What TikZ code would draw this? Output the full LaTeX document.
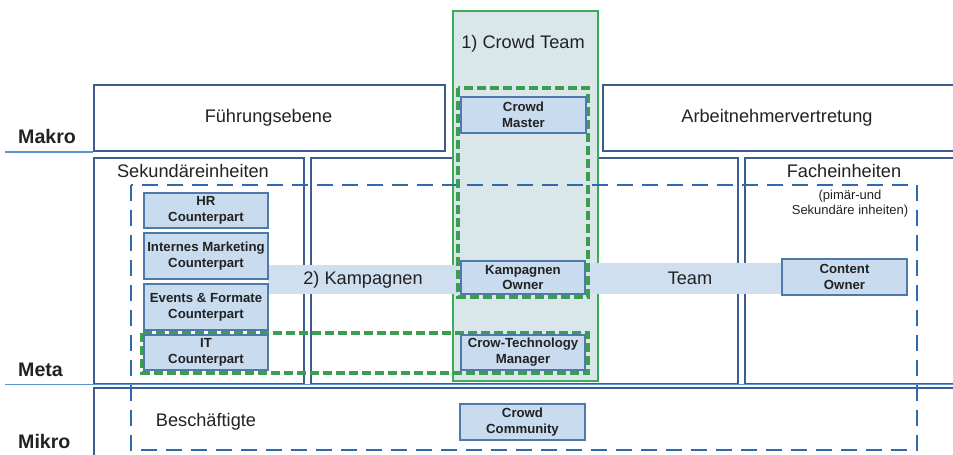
\documentclass[tikz,border=0pt]{standalone}
\usepackage{fontspec}
\setmainfont{Liberation Sans}
\begin{document}
\begin{tikzpicture}[x=1pt,y=-1pt,
  region/.style={draw=regionc, line width=1.8pt, fill=white, anchor=north west, inner sep=0pt},
  nbox/.style={draw=nboxc, line width=1.6pt, fill=nfill, align=center, inner sep=0pt,
    font=\fontsize{13.2}{15.8}\selectfont\bfseries, text=txt},
  band/.style={fill=bandc, draw=none, inner sep=0pt, font=\fontsize{18.2}{20}\selectfont, text=txt},
  lbl/.style={font=\fontsize{18.2}{20}\selectfont, text=txt, inner sep=0pt},
  lvl/.style={font=\fontsize{19.6}{22}\selectfont\bfseries, text=txt, inner sep=0pt, anchor=base west},
  gdash/.style={draw=greend, line width=3.4pt, dash pattern=on 9pt off 4pt},
  bdash/.style={draw=blued, line width=2.8pt, dash pattern=on 16pt off 9pt},
  lvline/.style={draw=linec, line width=1.4pt}
]
\definecolor{regionc}{HTML}{3E5C8E}
\definecolor{nboxc}{HTML}{4F79A8}
\definecolor{nfill}{HTML}{C8DBEF}
\definecolor{bandc}{HTML}{CFDFF0}
\definecolor{txt}{HTML}{222222}
\definecolor{greenc}{HTML}{3DAA5A}
\definecolor{greend}{HTML}{3A9E4E}
\definecolor{greenfill}{HTML}{D9E6EA}
\definecolor{blued}{HTML}{2F6AAE}
\definecolor{linec}{HTML}{5B95CF}

\useasboundingbox (0,0) rectangle (953,455);

% region boxes
\node[region, minimum width=351pt, minimum height=66pt] (fuehrung) at (93,84) {};
\node[region, minimum width=351pt, minimum height=66pt] (arbeit) at (602,84) {};
\node[region, minimum width=210pt, minimum height=226pt] (sek) at (93,157) {};
\node[region, minimum width=427pt, minimum height=226pt] (mid) at (310,157) {};
\node[region, minimum width=209pt, minimum height=226pt] (fach) at (744,157) {};
\node[region, minimum width=861pt, minimum height=80pt] (mikro) at (93,387) {};

% crowd team column
\node[draw=greenc, line width=2.2pt, fill=greenfill, anchor=north west, inner sep=0pt,
  minimum width=145pt, minimum height=370pt] (crowdteam) at (452,10) {};
\node[lbl] (ctlabel) at (523,44) {1) Crowd Team};

% bands
\node[band, minimum width=190pt, minimum height=29pt] (kband) at (363,279.5) {2) Kampagnen};
\node[band, minimum width=194pt, minimum height=31pt] (tband) at (685,278.5) {};
\node[lbl] (teamlbl) at (690,278) {Team};

% blue dashed
\draw[bdash] (131,185) rectangle (917,450);

% green dashed
\draw[gdash] (458,88) rectangle (588,297);
\draw[gdash] (142,333) rectangle (588,373);

% node boxes
\node[nbox, minimum width=124pt, minimum height=35pt] (hr) at (206,210.5) {HR\\Counterpart};
\node[nbox, minimum width=124pt, minimum height=46pt] (im) at (206,256) {Internes Marketing\\Counterpart};
\node[nbox, minimum width=124pt, minimum height=46pt] (ev) at (206,307) {Events \& Formate\\Counterpart};
\node[nbox, minimum width=124pt, minimum height=35pt] (it) at (206,352.5) {IT\\Counterpart};
\node[nbox, minimum width=125pt, minimum height=36pt] (cm) at (523.5,115) {Crowd\\Master};
\node[nbox, minimum width=124pt, minimum height=33pt] (ko) at (523,277.5) {Kampagnen\\Owner};
\node[nbox, minimum width=124pt, minimum height=35pt] (ctm) at (523,352.5) {Crow-Technology\\Manager};
\node[nbox, minimum width=125pt, minimum height=36pt] (cc) at (522.5,422) {Crowd\\Community};
\node[nbox, minimum width=125pt, minimum height=36pt] (co) at (844.5,277) {Content\\Owner};

% labels
\node[lbl] (fl) at (268.5,118) {Führungsebene};
\node[lbl] (al) at (777,118) {Arbeitnehmervertretung};
\node[lbl] (sl) at (193,171) {Sekundäreinheiten};
\node[lbl] (fal) at (844,171) {Facheinheiten};
\node[font=\fontsize{13}{15}\selectfont, text=txt, align=center, inner sep=0pt] (fsub) at (850,203.5) {(pimär-und\\Sekundäre inheiten)};
\node[lbl] (bl) at (206,422) {Beschäftigte};

% level labels and lines
\coordinate (mk0) at (5,152);
\coordinate (mk1) at (93,152);
\draw[lvline] (mk0) -- (mk1);
\coordinate (mt0) at (5,384.5);
\coordinate (mt1) at (953,384.5);
\draw[lvline] (mt0) -- (mt1);
\node[lvl] (makro) at (18,143) {Makro};
\node[lvl] (meta) at (18,376) {Meta};
\node[lvl] (mikrol) at (18,448) {Mikro};
\end{tikzpicture}
\end{document}
